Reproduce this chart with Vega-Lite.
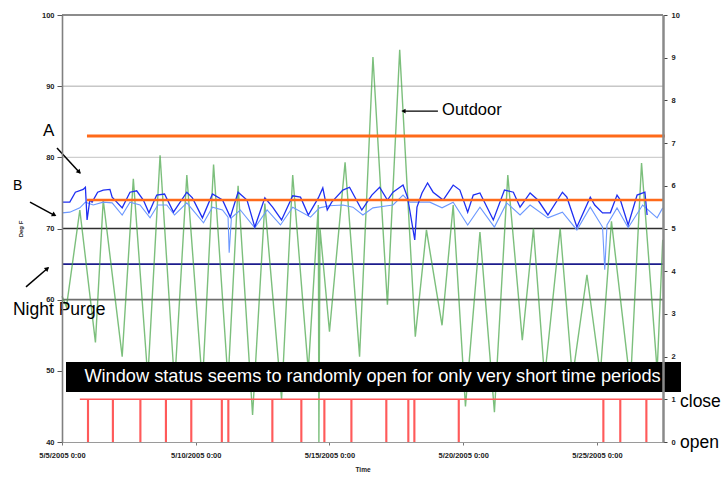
{
 "$schema": "https://vega.github.io/schema/vega-lite/v6.json",
 "width": 601, "height": 427,
 "autosize": {"type": "none"},
 "padding": {"left": 62, "top": 15, "right": 59, "bottom": 37},
 "background": "white",
 "config": {"view": {"stroke": null}, "font": "Liberation Sans"},
 "datasets": {
  "one": [{}],
  "outdoor": [
   {"t":"2005-05-05T00:00","temp":60.5},{"t":"2005-05-05T04:00","temp":59},{"t":"2005-05-05T16:00","temp":72.6},
   {"t":"2005-05-06T06:00","temp":54},{"t":"2005-05-06T13:00","temp":74},{"t":"2005-05-07T06:00","temp":52},
   {"t":"2005-05-07T16:00","temp":77},{"t":"2005-05-08T05:00","temp":49},{"t":"2005-05-08T16:00","temp":80.3},
   {"t":"2005-05-09T05:00","temp":48},{"t":"2005-05-09T16:00","temp":77.5},{"t":"2005-05-10T06:00","temp":48},
   {"t":"2005-05-10T16:00","temp":79},{"t":"2005-05-11T05:00","temp":48.5},{"t":"2005-05-11T14:00","temp":76},
   {"t":"2005-05-12T03:00","temp":43.8},{"t":"2005-05-12T14:00","temp":73.5},{"t":"2005-05-13T05:00","temp":46},
   {"t":"2005-05-13T15:00","temp":77.5},{"t":"2005-05-14T05:00","temp":50},{"t":"2005-05-14T14:00","temp":73.3},
   {"t":"2005-05-14T14:30","temp":40},{"t":"2005-05-14T15:30","temp":70},{"t":"2005-05-15T00:00","temp":55.5},
   {"t":"2005-05-15T14:00","temp":79.3},{"t":"2005-05-16T03:00","temp":52},{"t":"2005-05-16T15:00","temp":94.1},
   {"t":"2005-05-17T04:00","temp":59.3},{"t":"2005-05-17T15:00","temp":95.1},{"t":"2005-05-18T05:00","temp":54.8},
   {"t":"2005-05-18T15:00","temp":69.8},{"t":"2005-05-19T05:00","temp":56.4},{"t":"2005-05-19T15:00","temp":73.3},
   {"t":"2005-05-20T02:00","temp":45},{"t":"2005-05-20T15:00","temp":69.5},{"t":"2005-05-21T04:00","temp":44.2},
   {"t":"2005-05-21T16:00","temp":77.5},{"t":"2005-05-22T05:00","temp":54.3},{"t":"2005-05-22T15:00","temp":70},
   {"t":"2005-05-23T01:00","temp":49},{"t":"2005-05-23T15:00","temp":70},{"t":"2005-05-24T02:00","temp":49},
   {"t":"2005-05-24T15:00","temp":63.5},{"t":"2005-05-25T03:00","temp":49.5},{"t":"2005-05-25T13:00","temp":71},
   {"t":"2005-05-26T06:00","temp":48},{"t":"2005-05-26T16:00","temp":79.2},{"t":"2005-05-27T06:00","temp":50},
   {"t":"2005-05-27T11:00","temp":68.4}
  ],
  "zoneA": [
   {"t":"2005-05-05T00:00","temp":73.7},{"t":"2005-05-05T07:00","temp":73.7},{"t":"2005-05-05T12:00","temp":75.1},
   {"t":"2005-05-05T19:00","temp":75.5},{"t":"2005-05-05T21:00","temp":75.8},{"t":"2005-05-05T22:30","temp":71.2},
   {"t":"2005-05-06T01:00","temp":74.0},{"t":"2005-05-06T03:00","temp":73.7},{"t":"2005-05-06T08:00","temp":75.1},
   {"t":"2005-05-06T13:00","temp":75.4},{"t":"2005-05-06T19:00","temp":75.5},{"t":"2005-05-06T21:00","temp":74.4},
   {"t":"2005-05-07T06:00","temp":72.9},{"t":"2005-05-07T13:00","temp":75.1},{"t":"2005-05-07T19:00","temp":75.3},
   {"t":"2005-05-08T01:00","temp":74.0},{"t":"2005-05-08T06:00","temp":72.2},{"t":"2005-05-08T13:00","temp":74.7},
   {"t":"2005-05-08T20:00","temp":74.85},{"t":"2005-05-09T04:00","temp":72.3},{"t":"2005-05-09T16:00","temp":75.1},
   {"t":"2005-05-09T21:00","temp":74.3},{"t":"2005-05-10T06:00","temp":71.5},{"t":"2005-05-10T15:00","temp":74.85},
   {"t":"2005-05-11T00:00","temp":74.0},{"t":"2005-05-11T07:00","temp":71.6},{"t":"2005-05-11T14:00","temp":75.1},
   {"t":"2005-05-11T22:00","temp":74.0},{"t":"2005-05-12T05:00","temp":70.2},{"t":"2005-05-12T14:00","temp":74.3},
   {"t":"2005-05-12T21:00","temp":73.0},{"t":"2005-05-13T05:00","temp":71.2},{"t":"2005-05-13T15:00","temp":74.6},
   {"t":"2005-05-13T22:00","temp":74.4},{"t":"2005-05-14T05:00","temp":71.9},{"t":"2005-05-14T14:00","temp":74.3},
   {"t":"2005-05-14T18:00","temp":75.7},{"t":"2005-05-14T22:00","temp":72.6},{"t":"2005-05-15T02:00","temp":73.7},
   {"t":"2005-05-15T12:00","temp":75.4},{"t":"2005-05-15T18:00","temp":75.8},{"t":"2005-05-16T05:00","temp":72.6},
   {"t":"2005-05-16T14:00","temp":74.7},{"t":"2005-05-16T21:00","temp":75.8},{"t":"2005-05-17T04:00","temp":74.0},
   {"t":"2005-05-17T09:00","temp":75.1},{"t":"2005-05-17T18:00","temp":76.1},{"t":"2005-05-17T22:00","temp":74.4},
   {"t":"2005-05-18T00:00","temp":72.6},{"t":"2005-05-18T04:30","temp":68.4},{"t":"2005-05-18T06:30","temp":73.0},
   {"t":"2005-05-18T11:00","temp":75.0},{"t":"2005-05-18T16:00","temp":76.4},{"t":"2005-05-18T21:00","temp":75.1},
   {"t":"2005-05-19T06:00","temp":74.0},{"t":"2005-05-19T15:00","temp":76.1},{"t":"2005-05-19T21:00","temp":75.4},
   {"t":"2005-05-20T04:00","temp":72.3},{"t":"2005-05-20T09:00","temp":74.7},{"t":"2005-05-20T15:00","temp":75.0},
   {"t":"2005-05-21T03:00","temp":71.2},{"t":"2005-05-21T13:00","temp":75.4},{"t":"2005-05-21T21:00","temp":75.1},
   {"t":"2005-05-22T03:00","temp":73.0},{"t":"2005-05-22T12:00","temp":75.0},{"t":"2005-05-22T19:00","temp":74.0},
   {"t":"2005-05-23T04:00","temp":71.9},{"t":"2005-05-23T17:00","temp":75.1},{"t":"2005-05-23T21:00","temp":74.4},
   {"t":"2005-05-24T06:00","temp":70.2},{"t":"2005-05-24T18:00","temp":74.4},{"t":"2005-05-24T22:00","temp":73.3},
   {"t":"2005-05-25T05:00","temp":72.2},{"t":"2005-05-25T12:00","temp":72.2},{"t":"2005-05-25T18:00","temp":74.7},
   {"t":"2005-05-25T21:00","temp":74.0},{"t":"2005-05-26T04:00","temp":70.5},{"t":"2005-05-26T12:00","temp":74.7},
   {"t":"2005-05-26T19:00","temp":75.1},{"t":"2005-05-26T21:00","temp":71.9}
  ],
  "zoneB": [
   {"t":"2005-05-05T00:00","temp":72.2},{"t":"2005-05-05T07:00","temp":72.3},{"t":"2005-05-05T16:00","temp":72.9},
   {"t":"2005-05-05T21:00","temp":73.7},{"t":"2005-05-06T04:00","temp":73.3},{"t":"2005-05-06T13:00","temp":73.7},
   {"t":"2005-05-06T21:00","temp":73.6},{"t":"2005-05-07T06:00","temp":71.9},{"t":"2005-05-07T13:00","temp":73.7},
   {"t":"2005-05-07T22:00","temp":73.3},{"t":"2005-05-08T07:00","temp":71.5},{"t":"2005-05-08T14:00","temp":73.3},
   {"t":"2005-05-08T22:00","temp":73.3},{"t":"2005-05-09T05:00","temp":71.9},{"t":"2005-05-09T16:00","temp":73.6},
   {"t":"2005-05-10T07:00","temp":70.8},{"t":"2005-05-10T15:00","temp":73.0},{"t":"2005-05-11T00:00","temp":72.6},
   {"t":"2005-05-11T05:00","temp":71.6},{"t":"2005-05-11T06:00","temp":66.6},{"t":"2005-05-11T08:00","temp":71.5},
   {"t":"2005-05-11T16:00","temp":72.6},{"t":"2005-05-12T05:00","temp":70.1},{"t":"2005-05-12T16:00","temp":72.6},
   {"t":"2005-05-13T04:00","temp":70.5},{"t":"2005-05-13T15:00","temp":73.0},{"t":"2005-05-14T07:00","temp":71.6},
   {"t":"2005-05-14T15:00","temp":72.9},{"t":"2005-05-15T00:00","temp":73.2},{"t":"2005-05-15T12:00","temp":73.3},
   {"t":"2005-05-15T21:00","temp":73.0},{"t":"2005-05-16T06:00","temp":71.9},{"t":"2005-05-16T15:00","temp":72.9},
   {"t":"2005-05-17T04:00","temp":73.2},{"t":"2005-05-17T09:00","temp":73.3},{"t":"2005-05-17T18:00","temp":74.7},
   {"t":"2005-05-18T00:00","temp":73.7},{"t":"2005-05-18T09:00","temp":73.7},{"t":"2005-05-18T18:00","temp":73.7},
   {"t":"2005-05-19T05:00","temp":72.9},{"t":"2005-05-19T15:00","temp":73.7},{"t":"2005-05-20T04:00","temp":70.5},
   {"t":"2005-05-20T15:00","temp":73.0},{"t":"2005-05-21T04:00","temp":70.2},{"t":"2005-05-21T15:00","temp":73.6},
   {"t":"2005-05-22T03:00","temp":71.9},{"t":"2005-05-22T12:00","temp":73.3},{"t":"2005-05-23T04:00","temp":71.5},
   {"t":"2005-05-23T17:00","temp":72.3},{"t":"2005-05-24T06:00","temp":69.8},{"t":"2005-05-24T18:00","temp":73.0},
   {"t":"2005-05-25T05:00","temp":70.2},{"t":"2005-05-25T07:00","temp":64.2},{"t":"2005-05-25T09:00","temp":70.5},
   {"t":"2005-05-25T18:00","temp":72.9},{"t":"2005-05-26T04:00","temp":70.1},{"t":"2005-05-26T17:00","temp":73.3},
   {"t":"2005-05-27T06:00","temp":71.5},{"t":"2005-05-27T11:00","temp":72.9}
  ],
  "window": [
   {"t":"2005-05-05T16:00","status":1},
   {"t":"2005-05-05T23:00","status":0},{"t":"2005-05-05T23:40","status":1},
   {"t":"2005-05-06T21:20","status":0},{"t":"2005-05-06T22:00","status":1},
   {"t":"2005-05-07T22:00","status":0},{"t":"2005-05-07T22:40","status":1},
   {"t":"2005-05-08T20:55","status":0},{"t":"2005-05-08T21:35","status":1},
   {"t":"2005-05-09T19:40","status":0},{"t":"2005-05-09T20:20","status":1},
   {"t":"2005-05-10T23:05","status":0},{"t":"2005-05-10T23:45","status":1},
   {"t":"2005-05-11T04:55","status":0},{"t":"2005-05-11T05:35","status":1},
   {"t":"2005-05-12T20:25","status":0},{"t":"2005-05-12T21:05","status":1},
   {"t":"2005-05-13T22:25","status":0},{"t":"2005-05-13T23:05","status":1},
   {"t":"2005-05-14T19:05","status":0},{"t":"2005-05-14T19:45","status":1},
   {"t":"2005-05-15T19:20","status":0},{"t":"2005-05-15T20:00","status":1},
   {"t":"2005-05-17T02:40","status":0},{"t":"2005-05-17T03:20","status":1},
   {"t":"2005-05-17T22:25","status":0},{"t":"2005-05-17T23:05","status":1},
   {"t":"2005-05-18T03:50","status":0},{"t":"2005-05-18T04:30","status":1},
   {"t":"2005-05-19T19:40","status":0},{"t":"2005-05-19T20:20","status":1},
   {"t":"2005-05-25T05:25","status":0},{"t":"2005-05-25T06:05","status":1},
   {"t":"2005-05-25T20:35","status":0},{"t":"2005-05-25T21:15","status":1},
   {"t":"2005-05-26T20:00","status":0},{"t":"2005-05-26T20:40","status":1},
   {"t":"2005-05-27T11:00","status":1}
  ]
 },
 "layer": [
  {"layer": [
   {"data": {"name":"one"}, "mark": {"type":"rule","color":"#8c8c8c","strokeWidth":2}, "encoding": {"y": {"datum":100,"type":"quantitative","title":"Deg F","scale":{"domain":[40,100],"zero":false}}}},
   {"data": {"name":"one"}, "mark": {"type":"rule","color":"#ababab","strokeWidth":1}, "encoding": {"y": {"datum":90,"type":"quantitative","title":"Deg F","scale":{"domain":[40,100],"zero":false}}}},
   {"data": {"name":"one"}, "mark": {"type":"rule","color":"#cfcfcf","strokeWidth":1.3}, "encoding": {"y": {"datum":80,"type":"quantitative","title":"Deg F","scale":{"domain":[40,100],"zero":false}}}},
   {"data": {"name":"one"}, "mark": {"type":"rule","color":"#2e2e2e","strokeWidth":1.3}, "encoding": {"y": {"datum":70,"type":"quantitative","title":"Deg F","scale":{"domain":[40,100],"zero":false}}}},
   {"data": {"name":"one"}, "mark": {"type":"rule","color":"#6e6e6e","strokeWidth":1.6}, "encoding": {"y": {"datum":60,"type":"quantitative","title":"Deg F","scale":{"domain":[40,100],"zero":false}}}},
   {"data": {"name":"one"}, "mark": {"type":"rule","color":"#1c1c8c","strokeWidth":1.6}, "encoding": {"y": {"datum":65,"type":"quantitative","title":"Deg F","scale":{"domain":[40,100],"zero":false}}}},
   {"data": {"name":"outdoor"},
    "mark": {"type":"line","color":"#45a445","strokeWidth":1.4,"opacity":0.7},
    "encoding": {
     "x": {"field":"t","type":"temporal","title":"Time",
       "scale": {"domain": [{"year":2005,"month":5,"date":5,"hours":0}, {"year":2005,"month":5,"date":27,"hours":11,"minutes":15}]},
       "axis": {"values":[{"year":2005,"month":5,"date":5},{"year":2005,"month":5,"date":10},{"year":2005,"month":5,"date":15},{"year":2005,"month":5,"date":20},{"year":2005,"month":5,"date":25}],
        "format":"%-m/%-d/%Y %-H:%M","labelFontSize":7.5,"labelFontWeight":"bold","labelColor":"#222","labelPadding":6,"labelFlush":false,"labelOverlap":false,"labelAngle":0,
        "tickSize":3,"tickColor":"#777","domainColor":"#9a9a9a","domainWidth":1.2,"title":"Time","titleFontSize":6.5,"titleFontWeight":"bold","titleColor":"#222","titlePadding":8,"grid":false,"zindex":1}},
     "y": {"field":"temp","type":"quantitative","title":"Deg F","scale":{"domain":[40,100],"zero":false},
       "axis": {"orient":"left","values":[40,50,60,70,80,90,100],"title":"Deg F","titleFontSize":6,"titleFontWeight":"bold","titleColor":"#222","titlePadding":18,
        "labelFontSize":7.5,"labelFontWeight":"bold","labelColor":"#222","labelPadding":3,"tickSize":5,"tickColor":"#555","domainColor":"#808080","domainWidth":1.6,"grid":false,"zindex":1}}
    }},
   {"data": {"name":"zoneB"},
    "mark": {"type":"line","color":"#6c98ff","strokeWidth":1.1},
    "encoding": {"x": {"field":"t","type":"temporal","title":"Time"}, "y": {"field":"temp","type":"quantitative","title":"Deg F","scale":{"domain":[40,100],"zero":false}}}},
   {"data": {"name":"zoneA"},
    "mark": {"type":"line","color":"#1f2ff2","strokeWidth":1.3},
    "encoding": {"x": {"field":"t","type":"temporal","title":"Time"}, "y": {"field":"temp","type":"quantitative","title":"Deg F","scale":{"domain":[40,100],"zero":false}}}},
   {"data": {"name":"one"}, "mark": {"type":"rule","color":"#ff6a1a","strokeWidth":3},
    "encoding": {"x": {"datum":{"year":2005,"month":5,"date":5,"hours":22,"minutes":24},"type":"temporal","title":"Time"},
     "x2": {"datum":{"year":2005,"month":5,"date":27,"hours":13}},
     "y": {"datum":83,"type":"quantitative","title":"Deg F","scale":{"domain":[40,100],"zero":false}}}},
   {"data": {"name":"one"}, "mark": {"type":"rule","color":"#ff6a1a","strokeWidth":2.5},
    "encoding": {"x": {"datum":{"year":2005,"month":5,"date":5,"hours":22,"minutes":24},"type":"temporal","title":"Time"},
     "x2": {"datum":{"year":2005,"month":5,"date":27,"hours":11,"minutes":15}},
     "y": {"datum":74,"type":"quantitative","title":"Deg F","scale":{"domain":[40,100],"zero":false}}}},
   {"data": {"name":"one"}, "mark": {"type":"rect","color":"black"},
    "encoding": {"x": {"datum":{"year":2005,"month":5,"date":5,"hours":3,"minutes":35},"type":"temporal","title":"Time"},
     "x2": {"datum":{"year":2005,"month":5,"date":28,"hours":3,"minutes":24}},
     "y": {"datum":51.24,"type":"quantitative","title":"Deg F","scale":{"domain":[40,100],"zero":false}}, "y2": {"datum":47.03}}},
   {"data": {"name":"one"}, "mark": {"type":"text","color":"white","fontSize":18.2,"align":"center","baseline":"middle","text":"Window status seems to randomly open for only very short time periods"},
    "encoding": {"x": {"datum":{"year":2005,"month":5,"date":16,"hours":14,"minutes":36},"type":"temporal","title":"Time"},
     "y": {"datum":49.1,"type":"quantitative","title":"Deg F","scale":{"domain":[40,100],"zero":false}}}},
   {"data": {"name":"one"}, "mark": {"type":"rule","color":"black","strokeWidth":1.5},
    "encoding": {"x": {"datum":{"year":2005,"month":5,"date":4,"hours":19,"minutes":30},"type":"temporal","title":"Time"},
     "x2": {"datum":{"year":2005,"month":5,"date":5,"hours":16,"minutes":9}},
     "y": {"datum":81.3,"type":"quantitative","title":"Deg F","scale":{"domain":[40,100],"zero":false}}, "y2": {"datum":77.8}}},
   {"data": {"name":"one"}, "mark": {"type":"point","shape":"triangle","filled":true,"color":"black","opacity":1,"size":28,"angle":137},
    "encoding": {"x": {"datum":{"year":2005,"month":5,"date":5,"hours":15,"minutes":0},"type":"temporal","title":"Time"},
     "y": {"datum":78.0,"type":"quantitative","title":"Deg F","scale":{"domain":[40,100],"zero":false}}}},
   {"data": {"name":"one"}, "mark": {"type":"rule","color":"black","strokeWidth":1.5},
    "encoding": {"x": {"datum":{"year":2005,"month":5,"date":3,"hours":19,"minutes":18},"type":"temporal","title":"Time"},
     "x2": {"datum":{"year":2005,"month":5,"date":4,"hours":17,"minutes":42}},
     "y": {"datum":73.7,"type":"quantitative","title":"Deg F","scale":{"domain":[40,100],"zero":false}}, "y2": {"datum":71.8}}},
   {"data": {"name":"one"}, "mark": {"type":"point","shape":"triangle","filled":true,"color":"black","opacity":1,"size":28,"angle":119},
    "encoding": {"x": {"datum":{"year":2005,"month":5,"date":4,"hours":16,"minutes":30},"type":"temporal","title":"Time"},
     "y": {"datum":71.95,"type":"quantitative","title":"Deg F","scale":{"domain":[40,100],"zero":false}}}},
   {"data": {"name":"one"}, "mark": {"type":"rule","color":"black","strokeWidth":1.5},
    "encoding": {"x": {"datum":{"year":2005,"month":5,"date":3,"hours":15,"minutes":42},"type":"temporal","title":"Time"},
     "x2": {"datum":{"year":2005,"month":5,"date":4,"hours":11,"minutes":24}},
     "y": {"datum":61.8,"type":"quantitative","title":"Deg F","scale":{"domain":[40,100],"zero":false}}, "y2": {"datum":64.45}}},
   {"data": {"name":"one"}, "mark": {"type":"point","shape":"triangle","filled":true,"color":"black","opacity":1,"size":28,"angle":49},
    "encoding": {"x": {"datum":{"year":2005,"month":5,"date":4,"hours":10,"minutes":20},"type":"temporal","title":"Time"},
     "y": {"datum":64.3,"type":"quantitative","title":"Deg F","scale":{"domain":[40,100],"zero":false}}}},
   {"data": {"name":"one"}, "mark": {"type":"rule","color":"black","strokeWidth":1.3},
    "encoding": {"x": {"datum":{"year":2005,"month":5,"date":19,"hours":1,"minutes":18},"type":"temporal","title":"Time"},
     "x2": {"datum":{"year":2005,"month":5,"date":17,"hours":17,"minutes":54}},
     "y": {"datum":86.5,"type":"quantitative","title":"Deg F","scale":{"domain":[40,100],"zero":false}}, "y2": {"datum":86.5}}},
   {"data": {"name":"one"}, "mark": {"type":"point","shape":"triangle","filled":true,"color":"black","opacity":1,"size":24,"angle":270},
    "encoding": {"x": {"datum":{"year":2005,"month":5,"date":17,"hours":19,"minutes":0},"type":"temporal","title":"Time"},
     "y": {"datum":86.5,"type":"quantitative","title":"Deg F","scale":{"domain":[40,100],"zero":false}}}},
   {"data": {"name":"one"}, "mark": {"type":"text","color":"black","fontSize":17,"align":"left","baseline":"middle","text":"A"},
    "encoding": {"x": {"datum":{"year":2005,"month":5,"date":4,"hours":7},"type":"temporal","title":"Time"},
     "y": {"datum":83.7,"type":"quantitative","title":"Deg F","scale":{"domain":[40,100],"zero":false}}}},
   {"data": {"name":"one"}, "mark": {"type":"text","color":"black","fontSize":14,"align":"left","baseline":"middle","text":"B"},
    "encoding": {"x": {"datum":{"year":2005,"month":5,"date":3,"hours":4},"type":"temporal","title":"Time"},
     "y": {"datum":76.0,"type":"quantitative","title":"Deg F","scale":{"domain":[40,100],"zero":false}}}},
   {"data": {"name":"one"}, "mark": {"type":"text","color":"black","fontSize":17.5,"align":"left","baseline":"middle","text":"Night Purge"},
    "encoding": {"x": {"datum":{"year":2005,"month":5,"date":3,"hours":4},"type":"temporal","title":"Time"},
     "y": {"datum":58.55,"type":"quantitative","title":"Deg F","scale":{"domain":[40,100],"zero":false}}}},
   {"data": {"name":"one"}, "mark": {"type":"text","color":"black","fontSize":16.5,"align":"left","baseline":"middle","text":"Outdoor"},
    "encoding": {"x": {"datum":{"year":2005,"month":5,"date":19,"hours":5},"type":"temporal","title":"Time"},
     "y": {"datum":86.65,"type":"quantitative","title":"Deg F","scale":{"domain":[40,100],"zero":false}}}}
  ]},
  {"layer": [
   {"data": {"name":"window"},
    "mark": {"type":"line","color":"#ff5a5a","strokeWidth":1.4,"interpolate":"step-after"},
    "encoding": {"x": {"field":"t","type":"temporal","title":"Time"},
     "y": {"field":"status","type":"quantitative","title":null,"scale":{"domain":[0,10]},
      "axis": {"orient":"right","values":[0,1,2,3,4,5,6,7,8,9,10],"title":null,"labelFontSize":7.5,"labelFontWeight":"bold","labelColor":"#222","labelPadding":4,"tickSize":4,"tickColor":"#444","domainColor":"#8a8a8a","domainWidth":2.5,"grid":false,"zindex":1}}}},
   {"data": {"name":"one"}, "mark": {"type":"text","color":"black","fontSize":17.5,"align":"left","baseline":"middle","text":"close"},
    "encoding": {"x": {"datum":{"year":2005,"month":5,"date":28,"hours":2,"minutes":30},"type":"temporal","title":"Time"},
     "y": {"datum":0.93,"type":"quantitative","title":null,"scale":{"domain":[0,10]}}}},
   {"data": {"name":"one"}, "mark": {"type":"text","color":"black","fontSize":17.5,"align":"left","baseline":"middle","text":"open"},
    "encoding": {"x": {"datum":{"year":2005,"month":5,"date":28,"hours":2,"minutes":30},"type":"temporal","title":"Time"},
     "y": {"datum":-0.03,"type":"quantitative","title":null,"scale":{"domain":[0,10]}}}}
  ]}
 ],
 "resolve": {"scale": {"y": "independent"}}
}
